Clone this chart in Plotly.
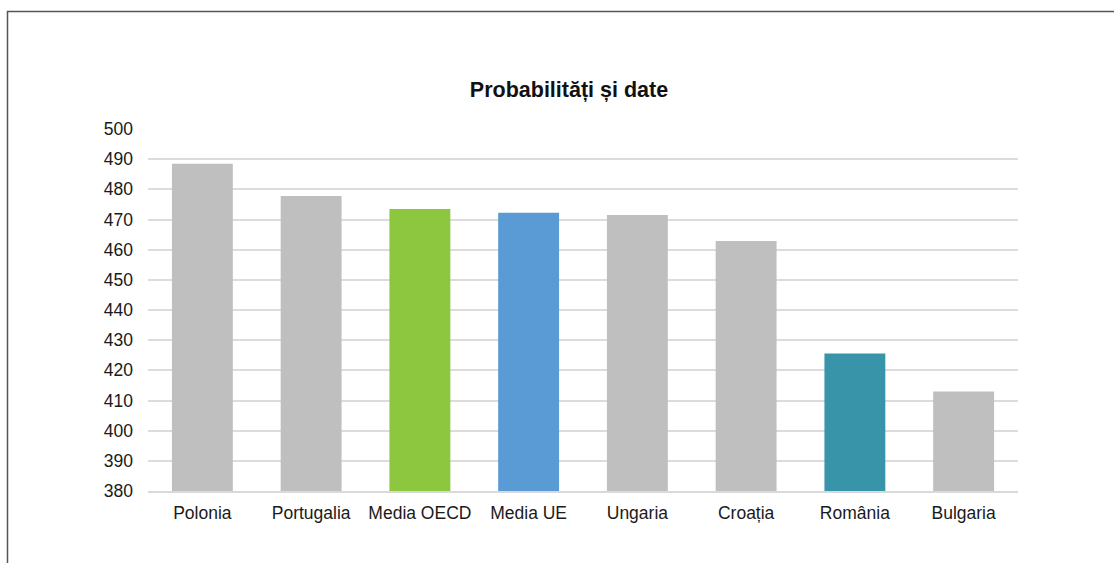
import plotly.graph_objects as go

categories = ["Polonia", "Portugalia", "Media OECD", "Media UE", "Ungaria", "Croația", "România", "Bulgaria"]
values = [488.5, 477.8, 473.5, 472.2, 471.5, 462.9, 425.6, 413.0]
colors = ["#bfbfbf", "#bfbfbf", "#8dc63f", "#5b9bd5", "#bfbfbf", "#bfbfbf", "#3794a9", "#bfbfbf"]
y_ticks = list(range(380, 501, 10))

W, H = 1114, 563
L, R, T, B = 148, 96, 129, 72
pw, ph = W - L - R, H - T - B

fig = go.Figure(go.Bar(x=categories, y=values, marker=dict(color=colors, line=dict(width=0)),
                       width=0.56))

def px_to_paper_x(px):
    return (px - L) / pw

def px_to_paper_y(py):
    return (H - B - py) / ph

fig.add_shape(type="rect", xref="paper", yref="paper",
              x0=px_to_paper_x(7.5), x1=px_to_paper_x(1130),
              y0=px_to_paper_y(580), y1=px_to_paper_y(11.5),
              line=dict(color="#555555", width=1.5), fillcolor="rgba(0,0,0,0)", layer="below")

fig.update_layout(
    width=W, height=H,
    margin=dict(l=L, r=R, t=T, b=B, autoexpand=False),
    paper_bgcolor="white", plot_bgcolor="white",
    title=dict(text="<b>Probabilități și date</b>", x=569 / W,
               xanchor="center", y=1 - 89 / H, yanchor="middle",
               font=dict(family="Liberation Sans, Arial, sans-serif", size=21.5, color="#111111")),
    font=dict(family="Liberation Sans, Arial, sans-serif", size=17.5, color="#1a1a1a"),
    showlegend=False,
    bargap=0.44,
)
fig.update_xaxes(showgrid=False, showline=True, linecolor="#d9d9d9", linewidth=1.5,
                 ticks="", tickfont=dict(size=17.5), ticklabelstandoff=5)
fig.update_yaxes(range=[380, 500], tickvals=y_ticks, showgrid=True, gridcolor="#dcdcdc",
                 gridwidth=1.5, zeroline=False, showline=False, ticks="",
                 tickfont=dict(size=17.5), ticklabelstandoff=14)

fig.write_html("out.html", config={"displayModeBar": False},
               post_script="document.body.style.margin='0px';document.body.style.overflow='hidden';")
